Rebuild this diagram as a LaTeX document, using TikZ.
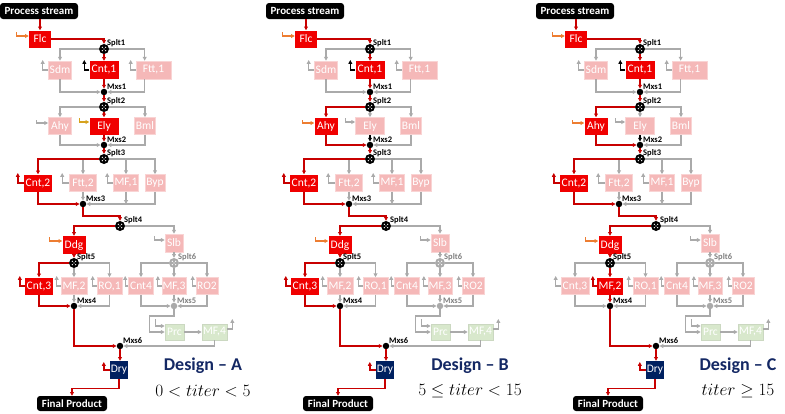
\documentclass[tikz,border=0pt]{standalone}
\usepackage[no-math]{fontspec}
\setmainfont{Carlito}
\usetikzlibrary{arrows.meta,calc}
\definecolor{cred}{RGB}{240,0,0}
\definecolor{cdred}{RGB}{200,0,0}
\definecolor{cpink}{RGB}{245,184,184}
\definecolor{cgray}{RGB}{170,170,170}
\definecolor{cgreen}{RGB}{216,232,204}
\definecolor{cnavy}{RGB}{0,32,96}
\definecolor{ctitle}{RGB}{20,40,100}
\definecolor{corange}{RGB}{237,125,49}
\definecolor{cgold}{RGB}{214,162,30}
\tikzset{
  unit/.style={minimum height=17pt, inner sep=0.5pt, text=white, font=\fontsize{11.5}{12}\selectfont},
  onunit/.style={unit, fill=cred},
  offunit/.style={unit, fill=cpink, draw=cpink!60!white, line width=0.6pt},
  grunit/.style={unit, fill=cgreen, draw=cgreen!85!gray, line width=0.6pt},
  dryunit/.style={unit, fill=cnavy},
  tag/.style={fill=black, rounded corners=3pt, text=white, inner sep=0pt, font=\bfseries\fontsize{11}{12}\selectfont},
  dots/.style={path picture={\foreach \a in {45,135,225,315}{\fill[white] (path picture bounding box.center) ++(\a:2.4pt) circle (0.7pt);}\fill[white] (path picture bounding box.center) circle (0.6pt);}},
  spl/.style={circle, fill=black, minimum size=10pt, inner sep=0pt, dots},
  splg/.style={circle, fill=cgray, minimum size=10pt, inner sep=0pt, dots},
  mix/.style={circle, fill=black, minimum size=6.5pt, inner sep=0pt},
  mixg/.style={circle, fill=cgray, minimum size=6.5pt, inner sep=0pt},
  lbl/.style={anchor=south west, inner sep=0pt, font=\bfseries\fontsize{8.5}{9}\selectfont},
  lblg/.style={lbl, text=gray},
  tip/.style={-{Triangle[length=3.8pt,width=3.8pt]}},
  rl/.style={draw=cdred, line width=1.4pt, tip},
  gl/.style={draw=cgray, line width=1.1pt, tip},
  kl/.style={draw=black, line width=1.1pt, tip},
  ol/.style={draw=corange, line width=1.1pt, tip},
  yl/.style={draw=cgold, line width=1.1pt, tip},
  design/.style={text=ctitle, font=\bfseries\fontsize{18}{20}\selectfont, inner sep=0pt},
  cond/.style={font=\fontsize{19}{21}\selectfont, inner sep=0pt}
}
% input elbow: style, node, dx, dy-start, dy-end
\newcommand\inarr[5]{\draw[#1] ($(#2.west)+(-#3,-#4)$) |- ($(#2.west)+(0,-#5)$);}
% output elbow: style, node, dx
\newcommand\outarr[3]{\draw[#1] (#2.west) -- ++(-#3,0) -- ++(0,-10);}
\newcommand\drawpanel[3]{%
\begin{scope}[xshift=#2pt]
\node[tag, minimum width=78pt, minimum height=16pt] (#1ps) at (39,11) {Process stream};
\node[onunit, minimum width=22pt] (#1flc) at (40,39) {Flc};
\node[spl] (#1s1) at (104,49) {};
\node[offunit, minimum width=23pt, minimum height=18pt] (#1sdm) at (60,70) {Sdm};
\node[onunit, minimum width=29pt, minimum height=18pt] (#1cnt1) at (104,70) {Cnt,1};
\node[offunit, minimum width=35pt, minimum height=18pt] (#1ftt1) at (153.5,70) {Ftt,1};
\node[mix] (#1m1) at (104,92) {};
\node[spl] (#1s2) at (104,107) {};
\ifnum#3=1
  \node[offunit, minimum width=23pt] (#1ahy) at (60,126) {Ahy};
  \node[onunit, minimum width=29pt] (#1ely) at (104,126) {Ely};
\else
  \node[onunit, minimum width=23pt] (#1ahy) at (60,126) {Ahy};
  \node[offunit, minimum width=29pt] (#1ely) at (104,126) {Ely};
\fi
\node[offunit, minimum width=21pt] (#1bml) at (145,126) {Bml};
\node[mix] (#1m2) at (104,145) {};
\node[spl] (#1s3) at (104,159) {};
\node[onunit, minimum width=28pt] (#1cnt2) at (38,183) {Cnt,2};
\node[offunit, minimum width=27pt] (#1ftt2) at (83,183) {Ftt,2};
\node[offunit, minimum width=25pt] (#1mf1) at (126,183) {MF,1};
\node[offunit, minimum width=20pt] (#1byp) at (155,183) {Byp};
\node[mix] (#1m3) at (83,204) {};
\node[spl] (#1s4) at (120,226) {};
\node[onunit, minimum width=23pt, minimum height=18pt] (#1ddg) at (74,245) {Ddg};
\node[offunit, minimum width=18pt, minimum height=18pt] (#1slb) at (174,243) {Slb};
\node[spl] (#1s5) at (74,263) {};
\node[splg] (#1s6) at (174,263) {};
\ifnum#3=3
  \node[offunit, minimum width=28pt] (#1cnt3) at (39,286) {Cnt,3};
  \node[onunit, minimum width=26pt] (#1mf2) at (74,286) {MF,2};
\else
  \node[onunit, minimum width=28pt] (#1cnt3) at (39,286) {Cnt,3};
  \node[offunit, minimum width=26pt] (#1mf2) at (74,286) {MF,2};
\fi
\node[offunit, minimum width=25pt] (#1ro1) at (109.5,286) {RO,1};
\node[offunit, minimum width=25pt] (#1cnt4) at (141,286) {Cnt4};
\node[offunit, minimum width=23pt] (#1mf3) at (174,286) {MF,3};
\node[offunit, minimum width=22pt] (#1ro2) at (207,286) {RO2};
\node[mix] (#1m4) at (74,306) {};
\node[mixg] (#1m5) at (174,306) {};
\node[grunit, minimum width=19pt, minimum height=16pt] (#1prc) at (174.5,332) {Prc};
\node[grunit, minimum width=25pt, minimum height=16pt] (#1mf4) at (214.5,332) {MF,4};
\node[mix] (#1m6) at (120,346) {};
\node[dryunit, minimum width=18pt, minimum height=18pt] (#1dry) at (119,370) {Dry};
\node[tag, minimum width=70pt, minimum height=15pt] (#1fp) at (72,403.5) {Final Product};
% labels
\node[lbl] (#1ls1) at ($(#1s1)+(3,-2)$) {Splt1};
\node[lbl] (#1lm1) at ($(#1m1)+(3,-2)$) {Mxs1};
\node[lbl] (#1ls2) at ($(#1s2)+(3,-2)$) {Splt2};
\node[lbl] (#1lm2) at ($(#1m2)+(3,-2)$) {Mxs2};
\node[lbl] (#1ls3) at ($(#1s3)+(3,-2)$) {Splt3};
\node[lbl] (#1lm3) at ($(#1m3)+(3,-2)$) {Mxs3};
\node[lbl] (#1ls4) at ($(#1s4)+(4,-2)$) {Splt4};
\node[lbl] (#1ls5) at ($(#1s5)+(3,-2)$) {Splt5};
\node[lblg] (#1ls6) at ($(#1s6)+(4,-2)$) {Splt6};
\node[lbl] (#1lm4) at ($(#1m4)+(3,-2)$) {Mxs4};
\node[lblg] (#1lm5) at ($(#1m5)+(3,-2)$) {Mxs5};
\node[lbl] (#1lm6) at ($(#1m6)+(3,-2)$) {Mxs6};
% feed
\draw[rl] (#1flc.north |- #1ps.south) -- (#1flc.north);
\inarr{ol}{#1flc}{12}{7}{3}
\draw[rl] (#1flc.east) -| (#1s1);
% stage 1
\draw[gl] (#1s1) -| (#1sdm.north);
\draw[gl] (#1s1) -| ($(#1ftt1.north west)+(9,0)$);
\draw[rl] (#1s1) -- (#1cnt1.north);
\outarr{gl}{#1sdm}{5.5}
\outarr{kl}{#1cnt1}{5}
\outarr{gl}{#1ftt1}{5}
\draw[gl] (#1sdm.south) |- (#1m1);
\draw[gl] ($(#1ftt1.south west)+(9,0)$) |- (#1m1);
\draw[rl] (#1cnt1.south) -- (#1m1);
\draw[rl] (#1m1) -- (#1s2);
% stage 2
\ifnum#3=1
  \draw[gl] (#1s2) -| (#1ahy.north);
  \draw[gl] (#1s2) -| (#1bml.north);
  \draw[rl] (#1s2) -- (#1ely.north);
  \inarr{gl}{#1ahy}{11.5}{6}{3}
  \inarr{yl}{#1ely}{10}{8}{4}
  \draw[gl] (#1ahy.south) |- (#1m2);
  \draw[gl] (#1bml.south) |- (#1m2);
  \draw[rl] (#1ely.south) -- (#1m2);
\else
  \draw[gl] (#1s2) -- (#1ely.north);
  \draw[gl] (#1s2) -| (#1bml.north);
  \draw[rl] (#1s2) -| (#1ahy.north);
  \inarr{ol}{#1ahy}{11.5}{6}{3}
  \inarr{gl}{#1ely}{10}{8}{4}
  \draw[gl] (#1bml.south) |- (#1m2);
  \draw[kl] (#1ely.south) -- (#1m2);
  \draw[rl] (#1ahy.south) |- (#1m2);
\fi
\draw[rl] (#1m2) -- (#1s3);
% stage 3
\draw[gl] (#1s3) -| (#1ftt2.north);
\draw[gl] (#1s3) -| (#1mf1.north);
\draw[gl] (#1s3) -| (#1byp.north);
\draw[rl] (#1s3) -| (#1cnt2.north);
\outarr{rl}{#1cnt2}{6}
\outarr{gl}{#1ftt2}{7}
\outarr{gl}{#1mf1}{6}
\draw[gl] (#1ftt2.south) -- (#1m3);
\draw[gl] (#1byp.south) |- (#1m3);
\draw[gl] (#1mf1.south) -- (#1mf1.south |- #1m3);
\draw[rl] (#1cnt2.south) |- (#1m3);
\draw[rl] (#1m3) |- ($(#1s4)+(0,-10)$) -- (#1s4);
% stage 4
\draw[gl] (#1s4) -| (#1slb.north);
\draw[rl] (#1s4) -| (#1ddg.north);
\inarr{ol}{#1ddg}{12.5}{8}{4}
\inarr{gl}{#1slb}{10}{7}{3}
\draw[rl] (#1ddg.south) -- (#1s5);
\draw[gl] (#1slb.south) -- (#1s6);
% stage 5
\draw[gl] (#1s5) -| (#1ro1.north);
\ifnum#3=3
  \draw[gl] (#1s5) -| (#1cnt3.north);
  \draw[rl] (#1s5) -- (#1mf2.north);
  \outarr{gl}{#1cnt3}{5}
  \outarr{rl}{#1mf2}{4}
  \draw[gl] (#1cnt3.south) |- (#1m4);
  \draw[gl] (#1ro1.south) |- (#1m4);
  \draw[rl] (#1mf2.south) -- (#1m4);
\else
  \draw[gl] (#1s5) -- (#1mf2.north);
  \draw[rl] (#1s5) -| (#1cnt3.north);
  \outarr{rl}{#1cnt3}{5}
  \outarr{gl}{#1mf2}{4}
  \draw[gl] (#1mf2.south) -- (#1m4);
  \draw[gl] (#1ro1.south) |- (#1m4);
  \draw[rl] (#1cnt3.south) |- (#1m4);
\fi
\outarr{gl}{#1ro1}{4}
\draw[gl] (#1s6) -| (#1cnt4.north);
\draw[gl] (#1s6) -- (#1mf3.north);
\draw[gl] (#1s6) -| (#1ro2.north);
\outarr{gl}{#1cnt4}{3}
\outarr{gl}{#1mf3}{4}
\outarr{gl}{#1ro2}{3}
\draw[gl] (#1cnt4.south) |- (#1m5);
\draw[gl] (#1mf3.south) -- (#1m5);
\draw[gl] (#1ro2.south) |- (#1m5);
% polishing
\draw[gl] (#1m5) -- ++(0,10) -| ($(#1prc.west)+(-15,0)$) -- (#1prc.west);
\inarr{gl}{#1prc}{9}{13}{6}
\draw[gl] (#1prc) -- (#1mf4);
\draw[gl] ($(#1mf4.east)+(0,-3)$) -- ++(5,0) -- ++(0,-10);
\draw[gl] (#1mf4.south) |- (#1m6);
% drying
\draw[rl] (#1m4) |- (#1m6);
\draw[rl] (#1m6) -- (#1m6 |- #1dry.north);
\draw[rl] (#1dry.west) -- ++(-6,0) -- ++(0,-8);
\draw[rl] (#1dry.south) -- ++(0,9) -| (#1fp.north);
\end{scope}}
\begin{document}
\begin{tikzpicture}[x=1pt,y=-1pt]
\useasboundingbox (0,0) rectangle (785,413);
\drawpanel{a}{0}{1}
\drawpanel{b}{266}{2}
\drawpanel{c}{536}{3}
\node[design] (da) at (203,366) {Design – A};
\node[cond] (ca) at (203,391) {$0 < titer < 5$};
\node[design] (db) at (470,366) {Design – B};
\node[cond] (cb) at (470,391) {$5 \leq titer < 15$};
\node[design] (dc) at (738,366) {Design – C};
\node[cond] (cc) at (738,391) {$titer \geq 15$};
\end{tikzpicture}
\end{document}
